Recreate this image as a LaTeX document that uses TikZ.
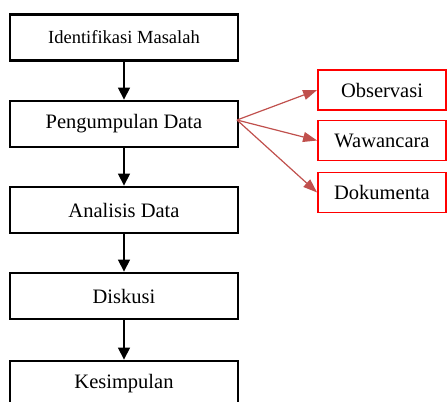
\documentclass[tikz,border=0pt]{standalone}
\usepackage{fontspec}
\setmainfont{Liberation Serif}
\usetikzlibrary{arrows.meta}
\definecolor{arrred}{HTML}{C0504D}
\begin{document}
\begin{tikzpicture}[x=1pt,y=-1pt,
  mainbox/.style={draw=black,line width=2.8pt,minimum width=228pt,minimum height=46pt,inner sep=0pt,font=\fontsize{20.5}{24}\selectfont},
  subbox/.style={draw=red,line width=1.8pt,minimum width=128pt,minimum height=40pt,inner sep=0pt,font=\fontsize{20.5}{24}\selectfont},
  flowarrow/.style={line width=1.2pt,-{Triangle[length=12pt,width=12pt]}},
  redarrow/.style={arrred,line width=1.2pt,-{Triangle[length=14pt,width=10pt]}}]
\useasboundingbox (0,0) rectangle (448,402);
\clip (0,0) rectangle (448,402);
\node[mainbox,font=\fontsize{18.5}{22}\selectfont] (b1) at (124,37.5) {Identifikasi Masalah};
\node[mainbox] (b2) at (124,124) {Pengumpulan Data};
\node[mainbox] (b3) at (124,210) {Analisis Data};
\node[mainbox] (b4) at (124,296) {Diskusi};
\node[mainbox] (b5) at (124,384) {Kesimpulan};
\node[subbox] (o) at (382,90) {Observasi};
\node[subbox] (w) at (382,140.5) {Wawancara};
\node[subbox] (d) at (382,192.5) {Dokumenta};
\draw[flowarrow] (b1) -- (b2);
\draw[flowarrow] (b2) -- (b3);
\draw[flowarrow] (b3) -- (b4);
\draw[flowarrow] (b4) -- (b5);
\coordinate (s) at (237,120);
\draw[redarrow] (s) -- (o.west);
\draw[redarrow] (s) -- (w.west);
\draw[redarrow] (s) -- (d.west);
\end{tikzpicture}
\end{document}
